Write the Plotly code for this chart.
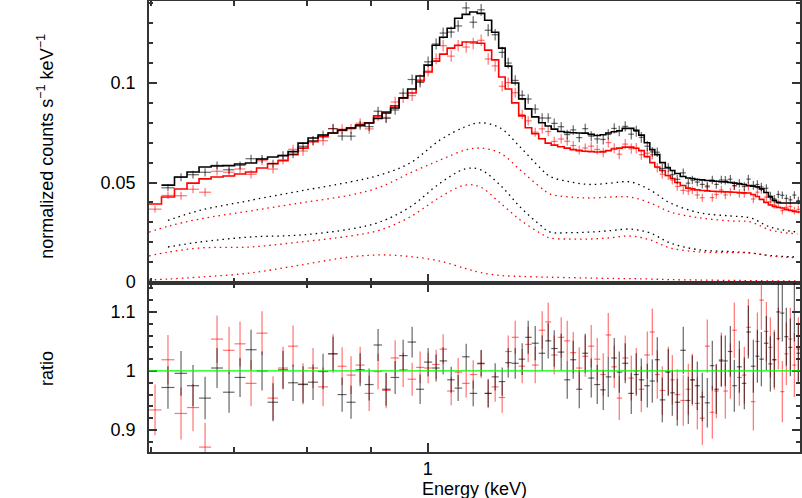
import numpy as np
import plotly.graph_objects as go
from plotly.subplots import make_subplots

# bin centres in keV (red uses all of them, black starts at the second bin)
energy = [0.6047, 0.6193, 0.6344, 0.6486, 0.6632, 0.6780, 0.6932, 0.7074, 0.7219, 0.7367,
          0.7518, 0.7658, 0.7801, 0.7946, 0.8094, 0.8245, 0.8399, 0.8540, 0.8682, 0.8829,
          0.8977, 0.9126, 0.9262, 0.9418, 0.9558, 0.9718, 0.9862, 1.0009, 1.0158, 1.0290,
          1.0444, 1.0579, 1.0737, 1.0877, 1.1038, 1.1182, 1.1327, 1.1475, 1.1603, 1.1754,
          1.1906, 1.2039, 1.2196, 1.2354, 1.2492, 1.2631, 1.2795, 1.2938, 1.3082, 1.3228,
          1.3375, 1.3524, 1.3675, 1.3827, 1.3956, 1.4111, 1.4242, 1.4400, 1.4561, 1.4696,
          1.4833, 1.4998, 1.5137, 1.5277, 1.5419, 1.5591, 1.5706, 1.5851, 1.6028, 1.6177,
          1.6297, 1.6448, 1.6600, 1.6754, 1.6910, 1.7035, 1.7194, 1.7321, 1.7482, 1.7611,
          1.7775, 1.7939, 1.8073, 1.8240, 1.8376, 1.8512, 1.8684, 1.8821, 1.8960, 1.9100,
          1.9242, 1.9385, 1.9529, 1.9674, 1.9820]
energy_black = energy[1:]
energy_red = energy

model_black = [0.0487, 0.0528, 0.0553, 0.0578, 0.0583, 0.0585, 0.0593, 0.0598, 0.0618, 0.0628,
               0.0635, 0.0655, 0.0698, 0.0724, 0.0739, 0.0749, 0.0764, 0.0774, 0.0786, 0.0799,
               0.0822, 0.0849, 0.0874, 0.0925, 0.0970, 0.1035, 0.1090, 0.1190, 0.1230, 0.1275,
               0.1325, 0.1345, 0.1357, 0.1350, 0.1315, 0.1255, 0.1175, 0.1085, 0.1000, 0.0920,
               0.0870, 0.0830, 0.0800, 0.0784, 0.0768, 0.0756, 0.0752, 0.0750, 0.0749, 0.0748,
               0.0742, 0.0736, 0.0740, 0.0749, 0.0755, 0.0760, 0.0772, 0.0772, 0.0762, 0.0738,
               0.0700, 0.0665, 0.0640, 0.0600, 0.0575, 0.0560, 0.0545, 0.0530, 0.0523, 0.0520,
               0.0515, 0.0513, 0.0510, 0.0508, 0.0506, 0.0504, 0.0503, 0.0500, 0.0497, 0.0493,
               0.0490, 0.0485, 0.0482, 0.0478, 0.0468, 0.0450, 0.0428, 0.0410, 0.0400, 0.0397,
               0.0397, 0.0397, 0.0397, 0.0397]

model_red = [0.0392, 0.0427, 0.0467, 0.0497, 0.0518, 0.0528, 0.0533, 0.0543, 0.0553, 0.0573,
             0.0595, 0.0610, 0.0640, 0.0673, 0.0705, 0.0730, 0.0749, 0.0762, 0.0774, 0.0790,
             0.0800, 0.0835, 0.0855, 0.0885, 0.0925, 0.0950, 0.1010, 0.1055, 0.1110, 0.1145,
             0.1175, 0.1190, 0.1206, 0.1206, 0.1200, 0.1165, 0.1116, 0.1030, 0.0970, 0.0900,
             0.0835, 0.0775, 0.0745, 0.0720, 0.0698, 0.0688, 0.0680, 0.0673, 0.0665, 0.0660,
             0.0657, 0.0655, 0.0653, 0.0655, 0.0660, 0.0668, 0.0673, 0.0678, 0.0678, 0.0672,
             0.0660, 0.0630, 0.0600, 0.0578, 0.0560, 0.0535, 0.0520, 0.0500, 0.0485, 0.0472,
             0.0468, 0.0463, 0.0460, 0.0458, 0.0456, 0.0455, 0.0454, 0.0453, 0.0452, 0.0451,
             0.0450, 0.0448, 0.0447, 0.0440, 0.0430, 0.0415, 0.0400, 0.0387, 0.0380, 0.0375,
             0.0372, 0.0365, 0.0360, 0.0355, 0.0352]

ratio_black = [0.972, 0.996, 0.975, 0.954, 1.005, 0.964, 0.989, 1.036, 1.000, 0.947,
               1.002, 0.980, 0.977, 0.981, 0.999, 1.029, 0.960, 0.947, 1.002, 0.977,
               1.044, 0.969, 0.989, 1.026, 1.049, 0.969, 1.015, 1.005, 1.017, 0.985,
               0.971, 1.024, 0.962, 1.013, 0.962, 0.990, 0.982, 1.014, 1.013, 1.020,
               1.057, 1.047, 1.030, 1.051, 1.038, 1.032, 0.985, 1.019, 0.969, 1.030,
               0.988, 0.977, 0.968, 0.990, 1.022, 0.998, 1.013, 0.962, 0.994, 0.985,
               0.975, 0.983, 1.019, 0.951, 0.998, 0.963, 0.947, 1.035, 0.950, 0.985,
               0.975, 0.956, 0.946, 1.009, 0.969, 1.017, 1.017, 1.033, 0.975, 1.007,
               0.979, 1.066, 1.008, 1.025, 1.020, 1.047, 1.012, 1.019, 1.100, 1.098,
               1.058, 1.040, 1.100, 1.030]

ratio_red = [0.934, 1.019, 0.928, 0.938, 0.871, 1.054, 1.035, 1.046, 0.979, 1.064,
             0.954, 1.005, 1.042, 0.978, 1.005, 0.973, 1.029, 1.008, 0.993, 1.010,
             0.962, 0.999, 0.967, 1.022, 1.002, 0.986, 1.006, 1.005, 1.011, 1.037,
             0.966, 0.998, 0.979, 0.994, 1.012, 0.962, 0.973, 0.955, 1.033, 1.057,
             1.008, 1.045, 1.010, 1.069, 1.083, 1.027, 1.057, 1.051, 1.031, 1.005,
             1.025, 1.042, 1.020, 0.994, 1.061, 1.007, 0.954, 1.022, 0.988, 1.000,
             0.969, 1.027, 1.066, 0.994, 0.967, 0.999, 0.985, 0.960, 0.950, 0.969,
             0.985, 0.945, 0.920, 1.042, 0.930, 0.966, 1.019, 0.966, 1.000, 1.069,
             0.989, 0.993, 1.074, 0.948, 1.050, 1.120, 1.067, 1.040, 1.019, 1.055,
             0.965, 1.029, 1.054, 1.010, 1.037]

err_black = [0.036, 0.038, 0.035, 0.036, 0.034, 0.035, 0.033, 0.034, 0.033, 0.032,
             0.032, 0.031, 0.031, 0.030, 0.030, 0.029, 0.029, 0.028, 0.028, 0.027,
             0.027, 0.028, 0.028, 0.027, 0.026, 0.025, 0.024, 0.023, 0.023, 0.022,
             0.022, 0.022, 0.022, 0.022, 0.023, 0.023, 0.024, 0.025, 0.026, 0.027,
             0.028, 0.029, 0.030, 0.030, 0.031, 0.031, 0.032, 0.032, 0.032, 0.033,
             0.033, 0.033, 0.034, 0.034, 0.034, 0.035, 0.034, 0.035, 0.036, 0.036,
             0.037, 0.037, 0.038, 0.038, 0.039, 0.039, 0.040, 0.040, 0.040, 0.041,
             0.041, 0.041, 0.042, 0.042, 0.042, 0.043, 0.043, 0.043, 0.044, 0.044,
             0.044, 0.045, 0.045, 0.045, 0.046, 0.046, 0.047, 0.047, 0.048, 0.048,
             0.049, 0.049, 0.050, 0.050]

err_red = [0.043, 0.042, 0.044, 0.040, 0.041, 0.040, 0.040, 0.038, 0.039, 0.037,
           0.037, 0.036, 0.035, 0.035, 0.034, 0.033, 0.033, 0.032, 0.032, 0.031,
           0.030, 0.030, 0.030, 0.030, 0.029, 0.028, 0.027, 0.026, 0.025, 0.025,
           0.024, 0.024, 0.024, 0.024, 0.024, 0.025, 0.025, 0.026, 0.027, 0.028,
           0.029, 0.030, 0.031, 0.032, 0.033, 0.033, 0.034, 0.034, 0.035, 0.035,
           0.035, 0.036, 0.036, 0.036, 0.037, 0.036, 0.037, 0.038, 0.038, 0.039,
           0.039, 0.040, 0.040, 0.041, 0.041, 0.042, 0.042, 0.043, 0.043, 0.043,
           0.044, 0.044, 0.045, 0.045, 0.045, 0.046, 0.046, 0.047, 0.047, 0.047,
           0.048, 0.048, 0.048, 0.049, 0.049, 0.050, 0.050, 0.051, 0.051, 0.052,
           0.052, 0.053, 0.053, 0.054, 0.054]

# model components (dotted), sampled in keV
comp_energy = [0.5980, 0.6193, 0.6570, 0.7205, 0.7902, 0.8667, 0.9160, 0.9682, 1.0234, 1.0717,
               1.1018, 1.1432, 1.1862, 1.2309, 1.2538, 1.3010, 1.3499, 1.4007, 1.4534, 1.5081,
               1.5648, 1.6540, 1.7482, 1.8140, 1.8821, 1.9783]
comp_black_1 = [None, 0.0310, 0.0360, 0.0410, 0.0457, 0.0503, 0.0538, 0.0598, 0.0714, 0.0780,
                0.0800, 0.0774, 0.0678, 0.0573, 0.0530, 0.0503, 0.0490, 0.0497, 0.0503, 0.0462,
                0.0397, 0.0347, 0.0332, 0.0322, 0.0276, 0.0251]
comp_black_2 = [None, 0.0176, 0.0201, 0.0226, 0.0236, 0.0266, 0.0302, 0.0377, 0.0497, 0.0568,
                0.0565, 0.0487, 0.0377, 0.0286, 0.0251, 0.0248, 0.0251, 0.0258, 0.0266, 0.0246,
                0.0196, 0.0161, 0.0153, 0.0146, 0.0133, 0.0126]
comp_red_1 = [0.0251, 0.0280, 0.0317, 0.0357, 0.0397, 0.0437, 0.0477, 0.0548, 0.0613, 0.0663,
              0.0673, 0.0648, 0.0563, 0.0477, 0.0442, 0.0427, 0.0422, 0.0427, 0.0427, 0.0397,
              0.0352, 0.0322, 0.0307, 0.0302, 0.0261, 0.0241]
comp_red_2 = [0.0131, 0.0150, 0.0171, 0.0176, 0.0201, 0.0231, 0.0261, 0.0327, 0.0427, 0.0487,
              0.0478, 0.0397, 0.0312, 0.0246, 0.0221, 0.0216, 0.0216, 0.0222, 0.0231, 0.0211,
              0.0171, 0.0151, 0.0148, 0.0146, 0.0131, 0.0121]
comp_red_3 = [0.0010, 0.0015, 0.0025, 0.0045, 0.0085, 0.0126, 0.0136, 0.0128, 0.0105, 0.0068,
              0.0048, 0.0033, 0.0028, 0.0025, 0.0024, 0.0022, 0.0020, 0.0018, 0.0017, 0.0015,
              0.0012, 0.0010, 0.0008, 0.0007, 0.0006, 0.0005]

BLACK = "black"
RED = "#ff0000"
BLACK_BAR = "rgba(0,0,0,0.6)"
RED_BAR = "rgba(255,0,0,0.55)"
FONT = "Liberation Sans, Arial, sans-serif"


def bin_edges(e):
    e = np.asarray(e)
    mid = np.sqrt(e[:-1] * e[1:])
    lo = np.concatenate([[e[0] ** 2 / mid[0]], mid])
    hi = np.concatenate([mid, [e[-1] ** 2 / mid[-1]]])
    return e, lo, hi


fig = make_subplots(rows=2, cols=1, shared_xaxes=True, vertical_spacing=0,
                    row_heights=[0.6253, 0.3747])

# dotted components
for comp, col in [(comp_black_1, BLACK), (comp_black_2, BLACK),
                  (comp_red_1, RED), (comp_red_2, RED), (comp_red_3, RED)]:
    fig.add_trace(go.Scatter(x=comp_energy, y=comp, mode="lines",
                             line=dict(color=col, width=1.3, dash="1.5px,4px", shape="spline"),
                             connectgaps=False), row=1, col=1)

for e_list, model, ratio, err, bar_col, line_col in [
        (energy_red, model_red, ratio_red, err_red, RED_BAR, RED),
        (energy_black, model_black, ratio_black, err_black, BLACK_BAR, BLACK)]:
    e, lo, hi = bin_edges(e_list)
    m = np.asarray(model)
    r = np.asarray(ratio)
    s = np.asarray(err)
    data = m * r
    xerr = dict(type="data", symmetric=False, array=hi - e, arrayminus=e - lo,
                thickness=1.2, width=0, color=bar_col)
    # spectrum crosses
    fig.add_trace(go.Scatter(x=e, y=data, mode="markers",
                             marker=dict(size=1, color="rgba(0,0,0,0)"),
                             error_x=xerr,
                             error_y=dict(type="data", array=m * s, thickness=1.2,
                                          width=0, color=bar_col)), row=1, col=1)
    # folded model histogram
    fig.add_trace(go.Scatter(x=np.concatenate([lo, [hi[-1]]]),
                             y=np.concatenate([m, [m[-1]]]), mode="lines",
                             line=dict(color=line_col, width=1.6, shape="hv")), row=1, col=1)
    # ratio crosses
    fig.add_trace(go.Scatter(x=e, y=r, mode="markers",
                             marker=dict(size=1, color="rgba(0,0,0,0)"),
                             error_x=xerr,
                             error_y=dict(type="data", array=s, thickness=1.2,
                                          width=0, color=bar_col)), row=2, col=1)

fig.add_hline(y=1, line=dict(color="#00ff00", width=1.2), row=2, col=1)

axis_common = dict(showline=True, linecolor="#333333", linewidth=1.5, mirror="allticks",
                   ticks="inside", tickcolor="#333333", showgrid=False, zeroline=False,
                   automargin=False,
                   tickfont=dict(family=FONT, size=18, color="black"))
minor_x = dict(tickmode="array", tickvals=[0.6, 0.7, 0.8, 0.9, 2], ticks="inside",
               ticklen=5, tickcolor="#333333", showgrid=False)
xrange = [np.log10(0.598), np.log10(1.988)]
fig.update_xaxes(type="log", range=xrange, tickmode="array", tickvals=[1], ticktext=["1"],
                 ticklen=9, tickwidth=1.5, minor=minor_x, **axis_common)
fig.update_xaxes(showticklabels=False, row=1, col=1)
fig.update_xaxes(showticklabels=True, ticklabelstandoff=0, row=2, col=1)

fig.update_yaxes(range=[-0.0005, 0.1412], tickmode="array", tickvals=[0, 0.05, 0.1],
                 ticktext=["0", "0.05", "0.1"], ticklen=8, tickwidth=1.5,
                 ticklabelstandoff=8,
                 minor=dict(dtick=0.01, tick0=0, ticks="inside", ticklen=4,
                            tickcolor="#333333", showgrid=False),
                 row=1, col=1, **axis_common)
fig.update_yaxes(range=[0.8627, 1.149], tickmode="array", tickvals=[0.9, 1, 1.1],
                 ticktext=["0.9", "1", "1.1"], ticklen=8, tickwidth=1.5,
                 ticklabelstandoff=8,
                 minor=dict(dtick=0.02, tick0=0.9, ticks="inside", ticklen=4,
                            tickcolor="#333333", showgrid=False),
                 row=2, col=1, **axis_common)

title_font = dict(family=FONT, size=18, color="black")
fig.add_annotation(text="normalized counts s<sup>−1</sup> keV<sup>−1</sup>", textangle=-90,
                   xref="paper", yref="paper", x=-0.158, y=0.677, showarrow=False,
                   xanchor="center", yanchor="middle", font=title_font)
fig.add_annotation(text="ratio", textangle=-90, xref="paper", yref="paper",
                   x=-0.157, y=0.186, showarrow=False, xanchor="center",
                   yanchor="middle", font=title_font)
fig.add_annotation(text="Energy (keV)", xref="paper", yref="paper", x=0.5, y=-0.082,
                   showarrow=False, xanchor="center", yanchor="middle", font=title_font)

fig.update_layout(width=802, height=498, showlegend=False,
                  margin=dict(l=149, r=2, t=1, b=46),
                  plot_bgcolor="white", paper_bgcolor="white",
                  font=dict(family=FONT, size=18, color="black"))

# drop the browser's default page margin so the figure sits at the window origin
fig.write_html("out.html", config={"displayModeBar": False},
               post_script="document.body.style.margin='0px';document.body.style.overflow='hidden';")
